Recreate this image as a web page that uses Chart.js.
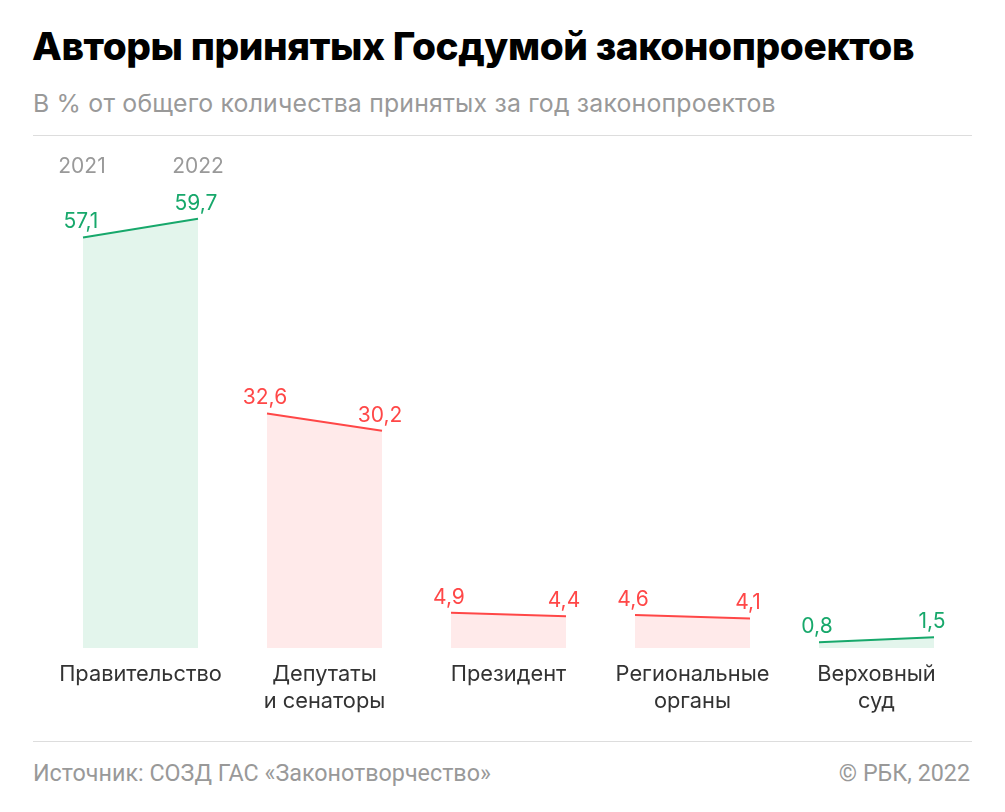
<!DOCTYPE html>
<html>
<head>
<meta charset="utf-8">
<script src="https://cdn.jsdelivr.net/npm/chart.js@4"></script>
<style>
  html, body { margin:0; padding:0; background:#fff; width:1005px; height:812px; overflow:hidden; font-family: Inter, Roboto, sans-serif; }
  #title { position:absolute; left:32px; top:22px; font-size:38.8px; font-weight:800; color:#000; letter-spacing:-0.4px; white-space:nowrap; }
  #subtitle { position:absolute; left:33px; top:88px; font-size:24.8px; color:#999; letter-spacing:0.2px; white-space:nowrap; }
  .rule { position:absolute; left:33px; width:939px; height:1px; background:#ddd; }
  #src { position:absolute; left:33px; top:759px; font-size:23.3px; color:#999; white-space:nowrap; font-family: Roboto, sans-serif; }
  #copy { position:absolute; right:35px; top:759px; font-size:23.3px; color:#999; white-space:nowrap; font-family: Roboto, sans-serif; }
  #wrap { position:absolute; left:0; top:140px; width:1005px; height:600px; }
</style>
</head>
<body>
<div id="title">Авторы принятых Госдумой законопроектов</div>
<div id="subtitle">В % от общего количества принятых за год законопроектов</div>
<div class="rule" style="top:135px"></div>
<div id="wrap"><canvas id="c" width="1005" height="600"></canvas></div>
<div class="rule" style="top:741px"></div>
<div id="src">Источник: СОЗД ГАС «Законотворчество»</div>
<div id="copy">© РБК, 2022</div>
<script>
const categories = [['Правительство'], ['Депутаты', 'и сенаторы'], ['Президент'], ['Региональные', 'органы'], ['Верховный', 'суд']];
const years = ['2021', '2022'];
const values2021 = [57.1, 32.6, 4.9, 4.6, 0.8];
const values2022 = [59.7, 30.2, 4.4, 4.1, 1.5];

const GREEN = '#17a86b', GREEN_FILL = '#e3f5ec';
const RED = '#ff4747', RED_FILL = '#ffeaea';
const HALF = 0.3125;

const fmt = v => v.toFixed(1).replace('.', ',');

const datasets = categories.map((c, i) => {
  const up = values2022[i] >= values2021[i];
  return {
    data: [{x: i - HALF, y: values2021[i]}, {x: i + HALF, y: values2022[i]}],
    borderColor: up ? GREEN : RED,
    backgroundColor: up ? GREEN_FILL : RED_FILL,
    borderWidth: 2,
    pointRadius: 0,
    fill: 'origin',
    tension: 0,
    clip: false
  };
});

const labelsPlugin = {
  id: 'labels',
  afterDatasetsDraw(chart) {
    const ctx = chart.ctx;
    const xs = chart.scales.x, ys = chart.scales.y;
    ctx.save();
    ctx.textAlign = 'center';
    ctx.textBaseline = 'middle';
    ctx.font = '21px Inter, Roboto, sans-serif';
    chart.data.datasets.forEach((ds, i) => {
      ctx.fillStyle = ds.borderColor;
      ds.data.forEach((p, j) => {
        const px = xs.getPixelForValue(p.x);
        const py = ys.getPixelForValue(p.y);
        ctx.fillText(fmt(p.y), px - 2, py - 15.5);
      });
    });
    ctx.fillStyle = '#999';
    const d0 = chart.data.datasets[0].data;
    ctx.fillText(years[0], xs.getPixelForValue(d0[0].x) - 1, 27);
    ctx.fillText(years[1], xs.getPixelForValue(d0[1].x), 27);
    ctx.fillStyle = '#333';
    ctx.font = '21.8px Inter, Roboto, sans-serif';
    categories.forEach((lines, i) => {
      const px = xs.getPixelForValue(i);
      lines.forEach((t, k) => {
        ctx.fillText(t, px, ys.getPixelForValue(0) + 26 + k * 27);
      });
    });
    ctx.restore();
  }
};

new Chart(document.getElementById('c'), {
  type: 'line',
  data: { datasets },
  options: {
    responsive: false,
    animation: false,
    layout: { padding: { left: 48.5, right: 36.5, top: 76.6, bottom: 92 } },
    plugins: { legend: { display: false }, tooltip: { enabled: false } },
    scales: {
      x: { type: 'linear', min: -0.5, max: 4.5, display: false },
      y: { min: 0, max: 60, display: false }
    }
  },
  plugins: [labelsPlugin]
});
</script>
</body>
</html>
